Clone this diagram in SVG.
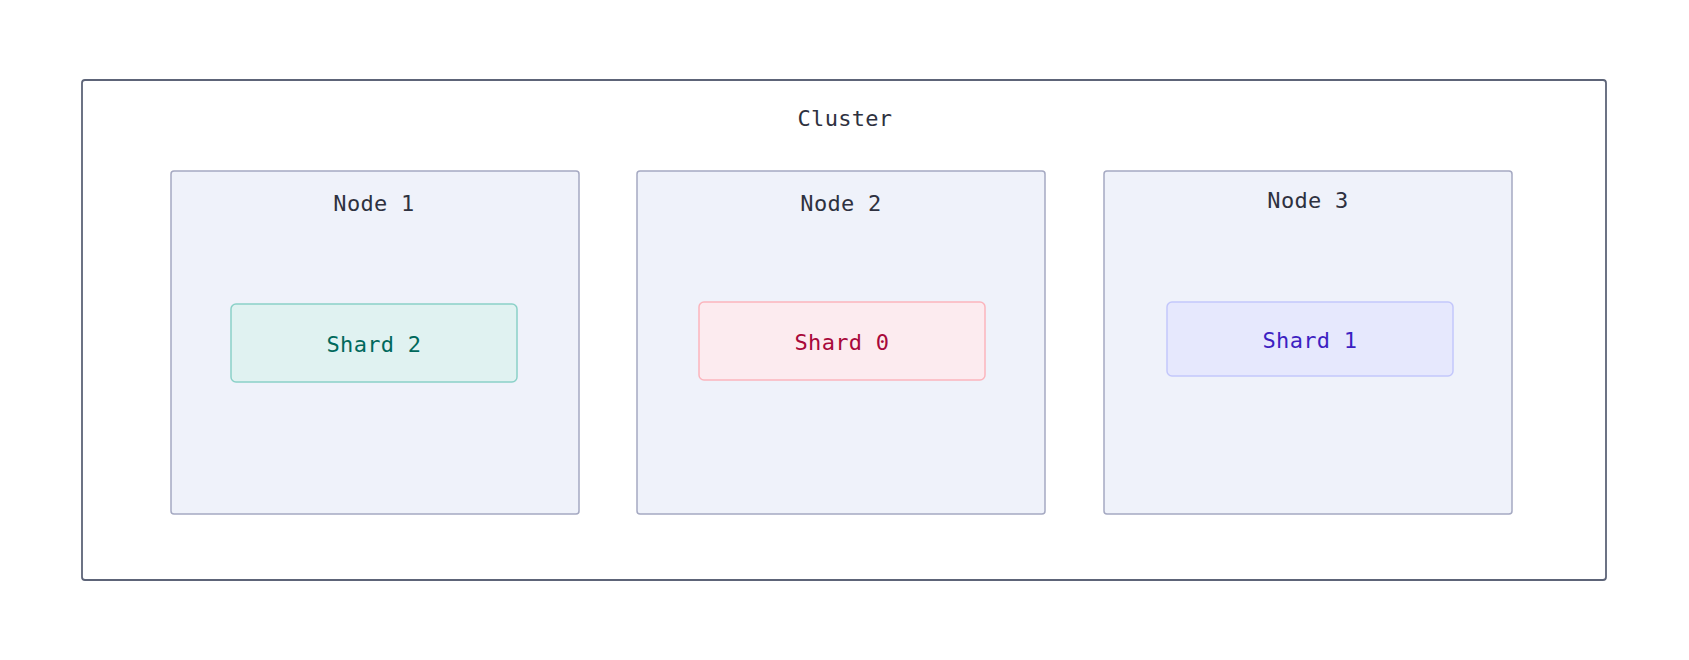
<svg xmlns="http://www.w3.org/2000/svg" width="1689" height="660" viewBox="0 0 1689 660">
<style>
text{font-family:"DejaVu Sans Mono","Liberation Mono",monospace;font-size:22px;text-anchor:middle;dominant-baseline:central;letter-spacing:0.3px}
.node{fill:#eff2fa;stroke:#a5a9c2;stroke-width:1.5}
.lbl{fill:#2e3140}
</style>
<rect width="1689" height="660" fill="#fff"/>
<g id="cluster">
<rect x="82" y="80" width="1524" height="500" rx="3" fill="#fff" stroke="#5d6478" stroke-width="1.8"/>
<text class="lbl" x="845" y="118">Cluster</text>
</g>
<g id="node1"><rect class="node" x="171" y="171" width="408" height="343" rx="3"/><text class="lbl" x="374" y="203">Node 1</text></g>
<g id="node2"><rect class="node" x="637" y="171" width="408" height="343" rx="3"/><text class="lbl" x="841" y="203">Node 2</text></g>
<g id="node3"><rect class="node" x="1104" y="171" width="408" height="343" rx="3"/><text class="lbl" x="1308" y="200">Node 3</text></g>
<g id="shard2"><rect x="231" y="304" width="286" height="78" rx="5" fill="#e0f2f1" stroke="#8bd1c8" stroke-width="1.5"/><text x="374" y="344" fill="#00695c">Shard 2</text></g>
<g id="shard0"><rect x="699" y="302" width="286" height="78" rx="5" fill="#fcebef" stroke="#fbb5bd" stroke-width="1.5"/><text x="842" y="342" fill="#a8083a">Shard 0</text></g>
<g id="shard1"><rect x="1167" y="302" width="286" height="74" rx="5" fill="#e6e8fd" stroke="#c3c7fb" stroke-width="1.5"/><text x="1310" y="340" fill="#3d1fc2">Shard 1</text></g>
<g id="connectors"></g>
</svg>
